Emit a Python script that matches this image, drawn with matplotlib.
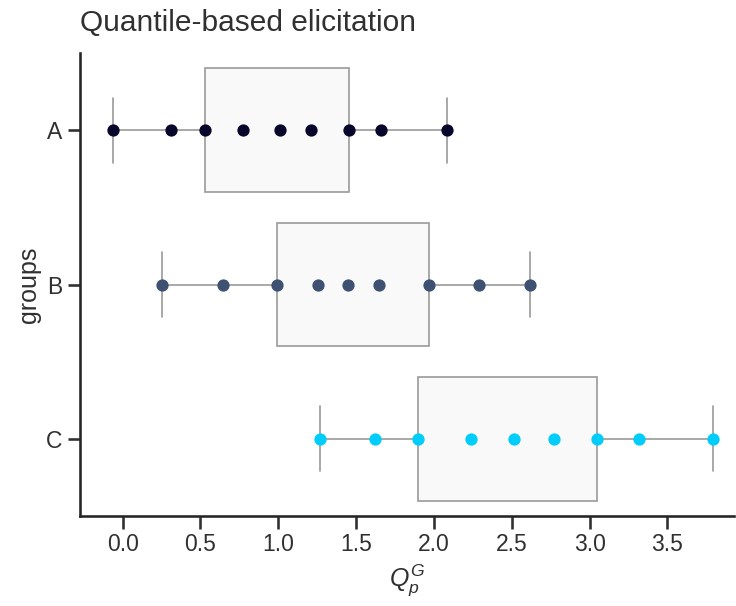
import matplotlib
matplotlib.use("Agg")
import matplotlib.pyplot as plt
import seaborn as sns

# Elicited quantiles (p = 0.1 ... 0.9) per group
groups = ["A", "B", "C"]
quantiles_a = [-0.064, 0.309, 0.527, 0.772, 1.008, 1.207, 1.454, 1.658, 2.083]
quantiles_b = [0.252, 0.646, 0.990, 1.256, 1.451, 1.650, 1.966, 2.289, 2.616]
quantiles_c = [1.266, 1.621, 1.895, 2.240, 2.513, 2.770, 3.046, 3.320, 3.795]
group_colors = ["#08062a", "#3e5171", "#00cdfc"]

sns.set_theme(style="ticks", context="talk")
plt.rcParams["font.family"] = ["Liberation Sans", "DejaVu Sans"]
plt.rcParams["mathtext.fontset"] = "custom"
plt.rcParams["mathtext.it"] = "Liberation Sans:italic"
plt.rcParams["mathtext.rm"] = "Liberation Sans"
plt.rcParams["text.color"] = "#303030"
plt.rcParams["axes.labelcolor"] = "#303030"
plt.rcParams["xtick.color"] = "#303030"
plt.rcParams["ytick.color"] = "#303030"

fig = plt.figure(figsize=(7.36, 6.06), dpi=100)
ax = fig.add_axes([0.1087, 0.1485, 0.889, 0.764])

data = [quantiles_a, quantiles_b, quantiles_c]
positions = list(range(len(groups)))

gray = "#9a9a9a"
ax.boxplot(
    data,
    positions=positions,
    vert=False,
    widths=0.8,
    whis=(0, 100),
    patch_artist=True,
    showfliers=False,
    capwidths=0.42,
    boxprops=dict(facecolor="#f9f9f9", edgecolor=gray, linewidth=1.2),
    whiskerprops=dict(color=gray, linewidth=1.2),
    capprops=dict(color=gray, linewidth=1.2),
    medianprops=dict(linewidth=0),
    zorder=1,
)

for pos, vals, col in zip(positions, data, group_colors):
    ax.scatter(vals, [pos] * len(vals), s=78, color=col, zorder=3, linewidths=0)

ax.set_yticks(positions)
ax.set_yticklabels(groups)
ax.set_ylim(2.5, -0.5)
ax.set_xlim(-0.274, 3.93)
ax.set_xticks([0.0, 0.5, 1.0, 1.5, 2.0, 2.5, 3.0, 3.5])
ax.set_xlabel("$Q_p^G$")
ax.set_ylabel("groups")
ax.set_title("Quantile-based elicitation", loc="left", fontsize=21.5, pad=16)
sns.despine(ax=ax)

fig.savefig("out.png", dpi=100)
